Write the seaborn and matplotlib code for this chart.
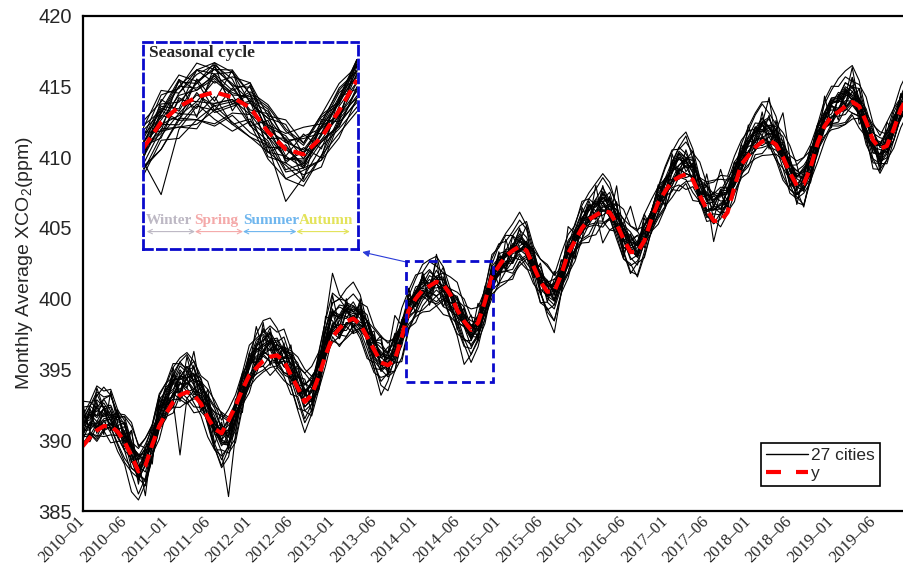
"""
Import packages
"""
import matplotlib
matplotlib.use('Agg')
import numpy as np
import pandas as pd
import matplotlib.pyplot as plt
import seaborn as sns
from matplotlib.lines import Line2D
from matplotlib.patches import Rectangle

"""
Data read off the chart (monthly, 2010-01 .. 2019-12)
"""
# red dashed curve "y"
y_mean = [
    389.6, 390.2, 390.7, 391.0, 391.0, 390.6, 389.9, 388.9, 387.8, 388.2, 389.7, 391.0,
    391.9, 392.7, 393.2, 393.4, 393.2, 392.6, 391.6, 390.8, 390.5, 391.4, 392.4, 393.6,
    394.6, 395.1, 395.6, 395.9, 396.0, 395.6, 394.6, 393.7, 392.7, 393.2, 394.5, 396.0,
    397.3, 397.9, 398.4, 398.6, 398.2, 397.3, 396.4, 395.5, 395.3, 395.7, 397.3, 399.2,
    400.0, 400.6, 400.9, 401.2, 401.0, 400.3, 399.2, 398.4, 397.8, 398.3, 399.8, 401.6,
    402.3, 403.0, 403.4, 403.7, 403.4, 402.3, 401.2, 400.5, 400.5, 401.7, 403.2, 404.1,
    405.0, 405.6, 405.9, 406.2, 406.1, 405.3, 404.2, 403.3, 403.3, 404.1, 405.6, 406.8,
    407.6, 408.3, 408.6, 408.8, 408.4, 407.3, 406.3, 405.5, 405.5, 406.1, 407.9, 409.5,
    410.1, 410.7, 411.1, 411.2, 410.9, 410.0, 408.9, 408.0, 408.1, 409.3, 411.0, 412.2,
    412.9, 413.2, 413.6, 413.9, 413.6, 412.5, 411.2, 410.6, 410.8, 412.0, 413.4, 414.3]

# centre of the bundle of black city lines
city_mid = [
    390.8, 391.3, 391.6, 391.8, 391.5, 390.9, 390.4, 389.3, 388.3, 388.6, 390.0, 391.6,
    392.8, 393.6, 394.0, 394.1, 393.9, 393.3, 392.2, 391.0, 390.3, 390.5, 391.8, 393.5,
    394.9, 395.8, 396.5, 396.4, 396.1, 395.9, 395.2, 394.2, 393.2, 393.4, 394.8, 396.8,
    398.3, 398.3, 398.6, 398.8, 398.6, 397.6, 396.6, 395.7, 395.6, 396.3, 397.8, 399.2,
    400.0, 400.6, 400.8, 400.9, 400.7, 400.0, 399.2, 398.3, 397.6, 398.0, 399.5, 401.3,
    402.2, 402.8, 403.2, 403.6, 403.5, 402.6, 401.4, 400.6, 400.4, 401.5, 403.0, 404.2,
    405.2, 405.8, 406.2, 406.6, 406.4, 405.6, 404.5, 403.6, 403.5, 404.3, 405.6, 406.8,
    407.8, 408.7, 409.3, 409.4, 408.9, 407.7, 407.0, 406.7, 406.9, 407.4, 408.4, 409.8,
    410.6, 411.3, 411.8, 411.7, 411.2, 410.2, 409.0, 408.2, 408.3, 409.5, 411.2, 412.5,
    413.2, 413.6, 414.0, 414.1, 413.6, 412.3, 411.0, 410.4, 410.8, 412.2, 413.5, 414.2]

# offset of each city from the bundle centre, in steps of dev_step ppm
dev_step = 0.14
city_dev = [
    [5, 8, 3, 6, 2, -1, 4, 2, 5, 3, 1, 4, 6, 3, 7, 2, 5, 8, 4, 1, 3, 6, 2, 5,
     3, 7, 4, 8, 2, 5, 6, 3, 1, 4, 9, 12, 25, 14, 8, 5, 3, 6, 2, 4, 1, 3, 5, 2,
     4, 1, 6, 3, 5, 2, 7, 4, 2, 5, 3, 6, 2, 4, 1, 5, 3, 6, 2, 4, 7, 3, 5, 1,
     3, 6, 2, 4, 1, 5, 8, 3, 2, 6, 4, 1, 5, 3, 7, 2, 4, 6, 3, 1, 5, 2, 4, 6,
     3, 5, 1, 4, 7, 2, 5, 3, 6, 1, 4, 2, 5, 3, 6, 2, 4, 1, 5, 7, 3, 2, 6, 4],
    [-4, -7, -3, -6, -2, -5, -8, -4, -1, -6, -3, -5, -2, -6, -36, -8, -3, -5, -7, -2, -4, -6, -3, -5,
     -7, -2, -4, -6, -3, -8, -5, -2, -6, -4, -7, -3, -5, -8, -2, -4, -6, -3, -7, -5, -2, -6, -4, -3,
     -6, -2, -5, -8, -3, -4, -6, -2, -7, -5, -3, -4, -2, -6, -4, -3, -7, -5, -2, -4, -6, -3, -8, -5,
     -3, -5, -7, -2, -4, -6, -3, -5, -8, -2, -4, -6, -5, -3, -6, -4, -2, -7, -5, -3, -4, -6, -2, -5,
     -4, -6, -3, -7, -5, -2, -4, -6, -3, -5, -7, -2, -6, -3, -5, -2, -4, -7, -3, -5, -6, -2, -4, -3],
    [2, -3, 5, -1, 4, -4, 1, -6, 3, 0, -2, 6, -1, 4, -3, 2, -5, 3, 0, -4, -8, -32, -10, 2,
     4, -2, 6, 1, -3, 5, -1, -6, 2, 4, -2, 3, -4, 1, 5, -2, 3, -1, 6, -3, 2, 0, -5, 4,
     1, -3, 2, 5, -1, 4, -4, 0, 3, -2, 6, 1, -2, 3, -5, 1, 4, -1, 2, -3, 5, 0, -4, 3,
     2, -1, 4, -3, 1, 5, -2, 3, -4, 2, 0, -1, 4, -2, 1, 3, -5, 2, -1, 4, 0, -3, 5, 2,
     -3, 1, 4, -2, 3, -1, 5, 0, -4, 2, 1, -3, 3, -2, 5, 1, -4, 2, 0, 3, -1, 4, -2, 1],
    [-8, -5, -10, -3, -7, -12, -15, -21, -18, -12, -9, -4, -6, -2, -8, -4, -9, -11, -14, -12, -10, -7, -5, -3,
     -5, -8, -3, -6, -9, -12, -10, -14, -8, -6, -4, -7, -3, -6, -9, -5, -8, -11, -13, -9, -7, -5, -8, -4,
     -6, -3, -7, -9, -5, -10, -12, -8, -6, -4, -7, -5, -3, -6, -8, -4, -9, -11, -7, -10, -6, -4, -8, -5,
     -7, -4, -6, -9, -5, -8, -12, -9, -6, -3, -7, -5, -4, -8, -5, -7, -10, -6, -9, -5, -7, -4, -6, -8,
     -5, -3, -7, -4, -8, -11, -9, -6, -4, -7, -5, -3, -6, -8, -4, -7, -5, -10, -8, -6, -4, -7, -5, -6],
    [3, 6, 1, 8, 4, 0, -3, -5, -8, -2, 2, 5, 7, 4, 9, 5, 2, 6, 3, -2, -5, -1, 3, 6,
     8, 5, 10, 6, 3, -2, -10, -15, -19, -11, -4, 2, 5, 8, 4, 7, 2, -5, -11, -18, -10, -3, 4, 2,
     6, 3, 8, 4, 1, -3, -6, -9, -4, 2, 5, 3, 7, 4, 9, 3, 1, -2, -5, -3, 2, 5, 8, 4,
     6, 9, 3, 7, 2, -3, -6, -2, 3, 6, 4, 8, 5, 7, 10, 6, 3, -4, -2, 1, 5, 8, 6, 4,
     9, 5, 7, 3, 0, -3, -6, -4, 2, 6, 8, 5, 7, 4, 9, 6, 2, -2, -5, -1, 4, 7, 5, 8],
    [-2, 4, -5, 1, -3, 6, -1, 3, -4, 2, 5, -2, 1, -4, 3, -1, 5, -3, 2, 7, 4, -2, 1, -5,
     3, 0, -3, 5, -2, 4, 1, -3, 6, 2, -1, 3, -2, 4, 1, -3, 5, 2, -4, 1, 3, -6, -16, -10,
     -8, -5, -3, 2, -4, -9, -13, -21, -11, -6, -2, 3, 1, -3, 4, -2, 2, 5, -1, 3, -4, 1, 4, -2,
     3, 0, -4, 2, 5, -1, 3, -3, 1, 4, -2, 0, -3, 2, 5, -1, 3, -2, 4, 1, -4, 2, -1, 3,
     1, -2, 4, 0, -3, 5, 2, -1, 3, -4, 1, 2, -1, 3, -2, 4, 1, -3, 2, 5, -2, 0, 3, -1],
    [6, 2, 9, 4, 7, 3, 5, 1, 4, 8, 6, 2, 4, 7, 3, 8, 5, 2, 6, 9, 4, 1, 5, 7,
     2, 6, 4, 9, 5, 3, 7, 2, 5, 8, 3, 6, 4, 9, 6, 2, 7, 5, 3, 8, 4, 6, 2, 5,
     3, 7, 9, 4, 6, 2, 5, 8, 3, 6, 9, 11, 12, 9, 11, 14, 10, 4, -6, -13, -20, -8, 2, 5,
     7, 3, 6, 9, 4, 2, 5, 8, 3, 6, 4, 7, 2, 5, 8, 4, 6, 3, 7, 5, 2, 6, 9, 4,
     6, 3, 5, 8, 2, 7, 4, 6, 3, 5, 8, 2, 4, 7, 3, 6, 9, 5, 2, 4, 8, 3, 6, 5],
    [-5, -1, -6, -3, 0, -4, 2, -2, -7, -3, 1, -4, -2, -5, 0, -3, -6, -1, -4, 2, -3, -5, -1, -2,
     -6, -3, -1, -4, 0, -5, -2, -6, -3, 1, -4, -2, -1, -4, -6, -2, -5, 0, -3, -1, -4, -2, -5, -3,
     0, -4, -2, -5, -1, -3, -6, -2, 0, -4, -3, -1, -4, -2, -5, -1, -3, -6, -2, 0, -4, -1, -3, -5,
     -2, -4, -1, -19, -11, -3, 6, 21, 9, -2, -4, -1, -3, -5, -2, 0, -4, -1, -6, -3, -2, -5, -1, -4,
     -2, 0, -3, -5, -1, -4, -2, -6, -3, -1, -4, -2, -5, -1, -3, 0, -4, -2, -5, -1, -3, -4, -2, 0],
    [1, 4, -2, 3, 6, 0, -3, 2, 5, -1, 3, 0, 2, -1, 4, 1, -2, 5, 3, -1, 2, 4, 0, -3,
     3, 1, -2, 4, 2, -1, 5, 0, -3, 2, 4, 1, -1, 3, 0, 5, 2, -2, 4, 1, -1, 3, 0, 2,
     4, 1, -2, 3, 0, 5, 2, -1, 4, 1, -3, 2, 0, 3, 1, -2, 4, 2, -1, 5, 0, 3, 1, -2,
     3, 0, 4, 1, -2, 3, 5, 0, 2, -1, 4, 1, -2, 6, 10, 15, 7, 3, 2, -19, -6, 3, 1, -1,
     2, 4, 0, 3, -2, 1, 5, 2, -1, 3, 0, 4, 1, -2, 3, 0, 4, 2, -1, 3, 1, -3, 2, 0],
    [-3, 0, -5, -2, 1, -4, -1, -6, -3, 0, -2, -4, -1, -3, 1, -5, -2, 0, -4, -1, -3, -6, -2, 0,
     -4, -1, -3, 0, -5, -2, -1, -4, 0, -3, -2, -5, 0, -2, -4, -1, -3, 1, -5, -2, 0, -4, -1, -3,
     -2, 0, -3, -5, -1, -4, 0, -2, -3, -1, -4, 0, -3, -1, -4, 0, -2, -5, -1, -3, 0, -2, -4, -1,
     -4, -2, 0, -3, -1, -5, -2, 0, -4, -1, -3, -2, 0, -3, -1, -4, -2, 0, -5, -3, -1, -4, -2, 0,
     -2, -4, 1, -1, 5, 21, 7, -4, -13, -6, -2, 0, -3, -1, -4, 0, -2, -5, -1, -3, 0, -2, -4, -1],
    [2, 5, 0, 3, 1, 4, 6, 2, -1, 3, 5, 1, 3, 0, 4, 2, 6, 1, 3, 5, 0, 2, 4, 3,
     1, 4, 2, 0, 5, 3, 1, 6, 2, 4, 0, 3, 5, 2, 4, 1, 3, 6, 0, 2, 5, 1, 3, 4,
     2, 5, 1, 3, 0, 4, 6, 2, 3, 1, 5, 2, 4, 1, 3, 6, 2, 0, 4, 2, 5, 3, 1, 4,
     0, 3, 5, 2, 4, 1, 3, 6, 2, 4, 0, 3, 5, 2, 1, 4, 3, 6, 0, 2, 4, 1, 5, 3,
     2, 4, 3, 1, 5, 2, 0, 3, 6, 2, 4, 1, 6, 4, 7, 4, 1, 3, 6, 2, 0, 4, 3, 5],
    [9, -4, 12, 3, -6, 8, -2, 10, -7, 5, -3, 11, -5, 8, -9, 6, 2, -7, 10, -3, 7, -8, 4, -2,
     9, -6, 3, 11, -4, 7, -9, 2, 8, -5, 10, -3, 6, -8, 4, -2, 9, -6, 3, 10, -7, 5, -1, 8,
     -4, 7, -9, 3, 11, -5, 6, -2, 9, -7, 4, -3, 8, -6, 2, 10, -4, 7, -8, 5, -1, 9, -5, 3,
     -7, 6, -3, 10, -2, 8, -9, 4, 7, -5, 2, 9, -4, 8, -6, 3, 11, -2, 7, -8, 5, -3, 9, -6,
     4, -2, 10, -7, 6, -4, 3, 9, -5, 8, -1, 5, -8, 6, -3, 11, 4, -5, 2, -10, 8, -2, 6, 3],
    [-10, -6, -12, -8, -4, -9, -14, -11, -7, -13, -9, -5, -8, -12, -6, -10, -14, -9, -5, -11, -15, -8, -12, -7,
     -11, -5, -9, -13, -7, -10, -14, -8, -12, -6, -9, -11, -7, -12, -9, -5, -10, -13, -8, -11, -6, -10, -14, -9,
     -12, -8, -5, -10, -13, -9, -7, -11, -15, -10, -6, -9, -8, -11, -13, -7, -10, -5, -12, -9, -14, -8, -11, -6,
     -9, -13, -7, -11, -5, -10, -12, -8, -14, -9, -6, -11, -10, -7, -12, -9, -14, -6, -11, -8, -13, -10, -7, -9,
     -12, -8, -11, -6, -10, -13, -9, -7, -12, -8, -11, -10, -7, -10, -12, -8, -11, -6, -13, -9, -7, -11, -10, -8],
    [11, 8, 13, 9, 12, 7, 10, 14, 9, 11, 8, 12, 9, 13, 10, 7, 12, 9, 14, 11, 8, 12, 10, 9,
     13, 10, 8, 12, 11, 14, 9, 7, 11, 13, 10, 12, 15, 12, 9, 11, 8, 13, 10, 12, 9, 7, 11, 10,
     12, 9, 13, 10, 8, 11, 14, 9, 12, 10, 8, 13, 10, 12, 9, 11, 14, 8, 10, 13, 9, 12, 11, 7,
     12, 9, 11, 14, 10, 8, 13, 11, 9, 12, 10, 8, 11, 13, 9, 12, 10, 14, 8, 11, 13, 9, 12, 10,
     9, 12, 14, 10, 8, 11, 13, 9, 12, 10, 8, 11, 13, 10, 12, 9, 11, 14, 10, 8, 12, 9, 11, 13],
    [-3, 7, -8, 4, -1, 9, -6, 2, -10, 5, -4, 8, 1, -7, 6, -3, 10, -5, 3, -9, 6, -2, 8, -4,
     -6, 5, -2, 9, -7, 3, -4, 8, -1, 6, -9, 2, 7, -3, 10, -6, 4, -1, 8, -5, 2, 9, -4, 6,
     -2, 8, -6, 3, -9, 5, -1, 7, -4, 2, 10, -3, 6, -5, 9, -2, 4, -8, 3, -6, 7, -1, 5, -9,
     2, 8, -4, 6, -1, 9, -7, 3, -3, 10, -5, 4, -8, 2, 7, -3, 5, -6, 9, -1, 4, -7, 3, 8,
     -5, 6, -2, 9, -4, 3, -8, 5, 1, -6, 8, -3, 4, -7, 6, -1, 9, -4, 2, -8, 5, -2, 7, -5],
    [7, 10, 5, 8, 12, 6, 9, 4, 8, 11, 7, 9, 5, 8, 11, 6, 9, 4, 7, 10, 12, 8, 6, 9,
     4, 7, 9, 5, 8, 3, 6, 9, 5, 7, 4, 8, 6, 3, 7, 4, 2, 6, 5, 1, 4, 7, 3, 5,
     2, 4, 0, 3, 5, 1, -2, 2, 4, 0, 3, -1, 1, -2, 2, -1, 0, -4, -1, 2, -3, 0, -2, 1,
     -3, -1, -4, 0, -2, -5, -3, -1, -4, -2, 0, -3, -5, -2, -4, -6, -1, -3, -5, -2, -6, -4, -1, -3,
     -4, -6, -2, -5, -3, -7, -4, -2, -5, -3, -6, -4, -2, -5, -7, -3, -4, -6, -2, -5, -3, -7, -4, -6],
    [-9, -6, -11, -7, -4, -8, -12, -9, -5, -10, -7, -11, -6, -9, -4, -8, -11, -7, -5, -9, -12, -6, -8, -4,
     -7, -5, -9, -3, -6, -8, -4, -7, -2, -5, -8, -3, -4, -6, -2, -5, -3, -1, -4, -6, -2, 0, -3, -1,
     -2, 0, -3, 1, -1, 2, -2, 0, 3, -1, 1, 2, 0, 3, 1, 4, 2, -1, 3, 5, 1, 2, 4, 0,
     3, 5, 2, 6, 4, 1, 5, 3, 7, 2, 4, 6, 5, 3, 7, 4, 8, 6, 2, 5, 7, 3, 6, 4,
     6, 8, 4, 7, 5, 9, 3, 6, 8, 5, 7, 4, 7, 5, 9, 6, 4, 8, 6, 3, 7, 9, 5, 6],
    [2, 4, 1, 3, -1, -4, -8, -12, -15, -9, -3, 1, 3, 5, 2, 4, 0, -3, -7, -11, -16, -12, -5, 0,
     3, 4, 2, 5, 1, -2, -6, -10, -14, -9, -3, 2, 4, 3, 5, 2, 0, -4, -8, -13, -15, -10, -4, 1,
     3, 2, 4, 1, -1, -5, -9, -12, -8, -3, 2, 4, 3, 5, 2, 4, 0, -3, -7, -11, -14, -8, -2, 2,
     4, 3, 5, 2, -1, -4, -8, -12, -13, -7, -2, 1, 3, 5, 4, 2, 0, -3, -7, -10, -9, -4, 1, 3,
     4, 2, 5, 3, 1, -2, -6, -10, -12, -6, -1, 2, 4, 3, 5, 2, 0, -4, -8, -11, -7, -2, 1, 3],
    [-2, -1, -3, 0, 2, 5, 9, 12, 10, 6, 2, -1, -3, -2, 0, -1, 3, 6, 10, 13, 11, 7, 3, -1,
     -2, -3, -1, 0, 2, 5, 8, 12, 13, 8, 3, 0, -2, -1, -3, 0, 3, 6, 9, 11, 10, 6, 2, -1,
     -3, -2, 0, -1, 2, 5, 9, 12, 8, 4, 0, -2, -1, -3, 0, -2, 3, 6, 10, 12, 9, 5, 1, -1,
     -2, 0, -3, -1, 2, 5, 8, 11, 10, 6, 2, 0, -1, -3, -2, 0, 3, 6, 9, 12, 11, 7, 3, 0,
     -2, -1, -3, 0, 2, 5, 8, 11, 12, 7, 2, -1, -3, -2, 0, -1, 3, 6, 9, 10, 6, 2, -1, -2],
    [4, -2, 15, 3, -5, 1, 6, -3, 2, -18, 0, 5, -1, 3, -4, 2, 17, 1, -3, 4, -2, 6, 1, -4,
     2, 16, -1, 3, -5, 0, 4, -2, 1, 5, -3, 14, 1, -4, 3, 0, -2, 5, 1, -3, 4, 18, 2, -1,
     3, 0, -5, 16, 2, -2, 4, 1, -3, 5, -1, 2, -4, 2, 5, -1, 3, 0, -3, 4, 1, -2, 15, 3,
     1, -3, 4, 2, -5, 17, 0, 3, -2, 4, 1, -4, 2, 5, -1, 3, 0, -4, 2, 5, 16, 1, -3, 4,
     -2, 1, 4, 18, -1, 3, 0, -3, 5, 2, -4, 1, 3, -1, 2, 16, 0, 4, -2, 1, -3, 5, 2, -1],
    [12, -5, 8, -10, 14, 2, -8, 10, -4, 6, -12, 9, -3, 11, -7, 13, 0, -9, 7, -2, 12, -6, 4, -11,
     8, -3, 13, -8, 5, -1, 11, -6, 3, -10, 9, -4, 14, -2, 7, -9, 10, -5, 2, 12, -7, 6, -3, 11,
     -8, 9, -1, 13, -6, 4, -10, 8, -2, 12, -5, 7, -9, 10, -4, 3, 12, -7, 8, -1, 11, -6, 5, -10,
     9, -3, 13, -8, 6, 0, -11, 7, -2, 12, -5, 4, -9, 11, -4, 8, 1, -7, 13, -2, 6, -10, 9, -3,
     12, -6, 5, -8, 10, -1, 7, -11, 3, 9, -4, 13, -7, 6, -2, 11, -9, 4, 8, -5, 12, -3, 7, -8],
    [3, 1, 6, 4, 2, 7, 5, 0, 3, 6, 2, 4, 1, 5, 3, 8, 2, 4, 6, 1, 3, 7, 5, 2,
     6, 3, 1, 4, 7, 2, 5, 3, 0, 4, 6, 8, 10, 12, 5, 3, 6, 1, 4, 2, 7, 3, 5, 1,
     4, 6, 2, 8, 3, 5, 1, 4, 6, 2, 3, 7, 5, 2, 4, 9, 6, 3, 1, 4, 2, 5, 7, 3,
     1, 4, 6, 3, 8, 2, 5, 1, 4, 7, 3, 5, 2, 6, 4, 1, 3, 5, 7, 2, 4, 6, 3, 1,
     5, 3, 7, 2, 4, 1, 6, 3, 5, 8, 2, 4, 6, 2, 4, 7, 3, 5, 1, 4, 6, 2, 5, 3],
    [-1, -4, -2, -6, -3, 0, -5, -2, -4, -1, -6, -3, -5, -2, -4, 0, -3, -6, -1, -4, -2, -5, -3, -1,
     -4, -6, -2, -3, -1, -5, -2, -4, -6, -3, -1, -4, -2, -5, -3, -1, -4, -2, -6, -3, -5, -1, -4, -2,
     -3, -1, -5, -2, -4, -6, -3, -1, -2, -5, -3, -4, -1, -4, -2, -6, -3, -5, -1, -3, -4, -2, -5, -1,
     -4, -2, -3, -5, -1, -4, -2, -6, -3, -1, -5, -2, -3, -5, -1, -4, -2, -3, -6, -1, -4, -2, -3, -5,
     -1, -3, -5, -2, -4, -1, -3, -6, -2, -4, -1, -3, -5, -2, -4, -1, -3, -5, -2, -4, -1, -3, -6, -2],
    [4, 8, 11, 14, 12, 6, 1, -2, -3, 0, 2, 5, 8, 11, 13, 15, 12, 7, 2, -1, -2, 1, 3, 6,
     9, 12, 14, 16, 13, 6, 1, -2, -3, 0, 3, 7, 10, 12, 15, 17, 12, 5, 0, -3, -2, 1, 4, 7,
     10, 13, 14, 15, 11, 5, 0, -2, -3, 1, 4, 8, 11, 13, 15, 18, 12, 6, 1, -2, -1, 2, 5, 8,
     10, 12, 14, 16, 13, 7, 1, -2, -3, 0, 4, 7, 10, 12, 14, 17, 12, 6, 0, -3, -2, 1, 5, 8,
     11, 13, 15, 16, 12, 5, 1, -2, -1, 2, 5, 9, 11, 14, 15, 17, 13, 6, 0, -2, 1, 3, 6, 9],
    [-3, -6, -9, -11, -8, -4, 0, 3, 4, 1, -2, -4, -7, -9, -12, -10, -7, -3, 1, 3, 2, 0, -3, -6,
     -8, -10, -12, -9, -6, -2, 2, 4, 3, 0, -3, -6, -9, -11, -10, -8, -5, -1, 2, 3, 1, -2, -5, -7,
     -9, -11, -12, -10, -6, -2, 1, 3, 2, -1, -4, -7, -10, -12, -11, -9, -5, -1, 2, 4, 3, 0, -3, -6,
     -8, -10, -12, -9, -6, -2, 1, 3, 2, -1, -4, -7, -9, -11, -10, -8, -4, -1, 2, 4, 3, 0, -3, -6,
     -8, -10, -12, -11, -7, -3, 1, 3, 2, -1, -4, -7, -9, -11, -12, -10, -6, -2, 1, 3, 0, -3, -5, -8],
    [14, 10, 16, 12, 15, 9, 7, 4, 2, 6, 8, 11, 9, 6, 11, 14, 8, 5, 3, 7, 10, 6, 4, 8,
     5, 9, 7, 3, 6, 10, 4, 8, 11, 5, 7, 3, 6, 4, 8, 2, 5, 9, 3, 6, 4, 8, 2, 5,
     3, 7, 1, 5, 8, 2, 6, 4, 0, 3, 7, 2, 5, 1, 4, 7, 3, 0, 6, 2, 4, 8, 1, 5,
     2, 6, 0, 4, 3, 7, 1, 5, 2, 6, 4, 0, 4, 1, 5, 3, 7, 2, 0, 6, 3, 1, 5, 2,
     3, 6, 1, 4, 2, 0, 5, 3, 7, 2, 4, 1, 5, 2, 4, 0, 3, 6, 1, 4, 2, 5, 0, 3],
    [-6, -10, -4, -8, -12, -7, -3, -9, -5, -11, -8, -6, -9, -5, -8, -11, -6, -3, -8, -12, -7, -10, -14, -9,
     -5, -8, -11, -7, -4, -9, -6, -3, -8, -12, -9, -6, -10, -7, -4, -9, -6, -8, -11, -5, -8, -10, -6, -9,
     -7, -10, -8, -5, -9, -6, -3, -8, -11, -7, -9, -5, -8, -6, -10, -7, -4, -9, -12, -6, -8, -5, -9, -11,
     -7, -9, -5, -8, -11, -6, -9, -13, -7, -10, -6, -8, -10, -6, -9, -12, -7, -5, -8, -10, -6, -9, -11, -7,
     -9, -5, -8, -6, -10, -7, -11, -8, -6, -9, -5, -8, -6, -9, -11, -7, -5, -8, -10, -6, -9, -7, -4, -8],
]

tick_pos = [0, 6, 12, 18, 24, 30, 36, 42, 48, 54, 60, 66, 72, 78, 84, 90, 96, 102, 108, 114]
tick_labels = ['2010–01', '2010–06', '2011–01', '2011–06', '2012–01', '2012–06', '2013–01',
               '2013–06', '2014–01', '2014–06', '2015–01', '2015–06', '2016–01', '2016–06',
               '2017–01', '2017–06', '2018–01', '2018–06', '2019–01', '2019–06']

# inset: seasonal cycle (Dec .. Dec), arbitrary units as drawn
season_y = [410.64, 412.48, 413.57, 414.25, 414.6, 414.24, 413.5, 411.8, 410.56, 410.2, 411.39, 413.29, 415.46]
season_step = 0.16
season_dev = [
    [5, 12, 8, 15, 10, 6, 3, 9, 4, 7, 2, 5, 8],
    [-6, -32, -10, -4, -8, -12, -5, -9, -3, -6, -10, -4, -7],
    [3, -2, 6, 10, 12, 8, -3, 2, -5, 1, 4, -2, 3],
    [-10, -6, -3, -8, -2, -12, -13, -6, -23, -10, -4, -8, -12],
    [8, 4, 11, 6, 13, 5, 9, 3, 7, 12, 6, 10, 4],
    [-3, 5, -6, 2, -9, -4, 3, -7, 1, -5, 2, -3, 6],
    [12, 9, 14, 7, 10, 12, 6, 11, 8, 4, 9, 3, 7],
    [-8, -12, -5, -10, -14, -7, -3, -11, -6, -9, -13, -5, -10],
    [2, 7, -1, 12, 4, 9, 11, 2, 6, -2, 5, 8, 1],
    [-4, -1, -8, -3, -12, -15, -6, -2, -9, -4, -1, -7, -3],
    [6, 2, 9, 4, 7, 1, 5, 10, 3, 8, 4, 6, 9],
    [1, -7, 4, -5, 8, -3, 6, -9, 2, -6, 5, -2, -8],
    [-12, -8, -14, -10, -6, -11, -13, -9, -7, -12, -8, -10, -14],
    [9, 14, 6, 12, 8, 3, 11, 7, 13, 5, 10, 12, 6],
    [-2, 3, -6, 8, -4, 12, -8, 5, -3, 9, -5, 2, -1],
    [4, 8, 2, 6, 11, 5, -2, 3, 0, -4, 1, 5, 9],
    [-7, -3, -9, -14, -5, -1, -8, -4, -10, -6, -2, -7, -4],
    [0, -5, 3, -2, 5, 1, -7, -12, -13, -14, -8, -3, -1],
    [2, 6, -3, 1, -6, -2, 7, 12, 9, 5, 10, 4, 2],
    [-5, 10, -2, 7, -8, 4, -1, 8, -6, 3, -9, 6, -4],
    [7, -4, 12, -9, 12, -6, 10, -3, 5, -11, 8, -5, 9],
    [3, 1, 5, 3, 6, 2, 4, 1, 3, 2, 5, 3, 4],
    [-3, -1, -4, -2, -5, -1, -3, -2, -4, -3, -1, -2, -5],
    [-1, 4, 9, 12, 13, 11, 6, 0, -4, -2, 1, 4, 7],
    [1, -4, -9, -12, -8, -3, 2, 6, 4, 1, -2, -6, -9],
    [10, 5, 12, 3, 8, 11, 2, 6, 11, 0, 7, 9, 4],
    [-9, -12, -6, -10, -15, -8, -11, -5, -13, -7, -10, -12, -8],
]
seasons = ['Winter', 'Spring', 'Summer', 'Autumn']
season_colors = ['#bdb8c4', '#f4a9a9', '#6fb6ee', '#e3e35a']

assert len(y_mean) == 120 and len(city_mid) == 120
for d in city_dev:
    assert len(d) == 120, len(d)

"""
Long tables for seaborn
"""
months = np.arange(len(y_mean))
rows = []
for c, dev in enumerate(city_dev):
    for m in months:
        rows.append((c, m, city_mid[m] + dev[m] * dev_step))
cities = pd.DataFrame(rows, columns=['city', 'month', 'xco2'])

srows = []
for c, dev in enumerate(season_dev):
    for m in range(len(season_y)):
        srows.append((c, m, season_y[m] + dev[m] * season_step))
season = pd.DataFrame(srows, columns=['city', 'month', 'xco2'])

"""
Plot
"""
sns.set_theme(style='white')
plt.rcParams['font.family'] = ['Liberation Sans', 'DejaVu Sans']
plt.rcParams['mathtext.fontset'] = 'custom'
plt.rcParams['mathtext.rm'] = 'Liberation Sans'

blue = '#0a0acc'
dash_box = (0, (3.2, 1.8))

fig = plt.figure(figsize=(9.04, 5.69), dpi=100)
ax = fig.add_axes([0.0918, 0.1019, 0.9123, 0.8705])

sns.lineplot(data=cities, x='month', y='xco2', units='city', estimator=None,
             color='black', lw=0.8, ax=ax, legend=False)
sns.lineplot(x=months, y=y_mean, color='red', lw=3, linestyle=(0, (3, 1.7)), ax=ax)

ax.set_xlim(0, 119)
ax.set_ylim(385, 420)
ax.set_xticks(tick_pos)
ax.set_xticklabels(tick_labels, rotation=45, ha='right', va='center', rotation_mode='anchor',
                   family='Liberation Serif', fontsize=12)
ax.set_yticks([385, 390, 395, 400, 405, 410, 415, 420])
ax.tick_params(axis='y', direction='inout', length=14, width=1, labelsize=14.5, pad=1)
ax.tick_params(axis='x', direction='in', length=8, width=1, pad=6)
ax.set_xlabel('')
ax.set_ylabel('Monthly Average XCO$_\\mathregular{2}$(ppm)', fontsize=14, labelpad=2)
for s in ['left', 'bottom', 'top', 'right']:
    ax.spines[s].set_color('black')
    ax.spines[s].set_linewidth(1.6)

# highlighted year and arrow to the inset
ax.add_patch(Rectangle((46.6, 394.1), 12.6, 8.6, fill=False, ec=blue, lw=2, ls=dash_box, zorder=5))
ax.annotate('', xy=(40.3, 403.3), xytext=(46.6, 402.6),
            arrowprops=dict(arrowstyle='-|>', color='#2a3bd8', lw=0.8, mutation_scale=10,
                            shrinkA=0, shrinkB=0))

handles = [Line2D([], [], color='black', lw=1),
           Line2D([], [], color='red', lw=3, linestyle=(0, (3.6, 3.6)))]
leg = ax.legend(handles, ['27 cities', 'y'], loc='lower right', bbox_to_anchor=(0.966, 0.05),
                borderaxespad=0, fontsize=12.5, frameon=True, fancybox=False, framealpha=1,
                edgecolor='black', borderpad=0.3, handlelength=2.4, handletextpad=0.15,
                labelspacing=0.15)
leg.get_frame().set_linewidth(1.2)

# inset with the seasonal cycle
axin = fig.add_axes([0.1579, 0.5619, 0.2385, 0.3638])
axin.set_facecolor('none')
sns.lineplot(data=season, x='month', y='xco2', units='city', estimator=None,
             color='black', lw=0.8, ax=axin, legend=False)
sns.lineplot(x=np.arange(len(season_y)), y=season_y, color='red', lw=3,
             linestyle=(0, (3, 1.7)), ax=axin)
axin.set_xlim(-0.034, 12.08)
axin.set_ylim(403.5, 418.12)
axin.set_xticks([])
axin.set_yticks([])
axin.set_xlabel('')
axin.set_ylabel('')
for s in axin.spines.values():
    s.set_color(blue)
    s.set_linewidth(2)
    s.set_linestyle(dash_box)

axin.text(0.03, 0.985, 'Seasonal cycle', transform=axin.transAxes, ha='left', va='top',
          family='Liberation Serif', fontweight='bold', fontsize=12.5)

label_x = [1.44, 4.12, 7.16, 10.25]
arrow_x = [(0.19, 2.9), (2.9, 5.6), (5.6, 8.6), (8.6, 11.6)]
for name, col, lx, (a0, a1) in zip(seasons, season_colors, label_x, arrow_x):
    axin.text(lx, 405.5, name, color=col, ha='center', va='center',
              family='Liberation Serif', fontweight='bold', fontsize=11)
    axin.annotate('', xy=(a1, 404.75), xytext=(a0, 404.75),
                  arrowprops=dict(arrowstyle='<->', color=col, lw=0.8, mutation_scale=8,
                                  shrinkA=0, shrinkB=0))

plt.savefig('out.png', dpi=100)
plt.close()
